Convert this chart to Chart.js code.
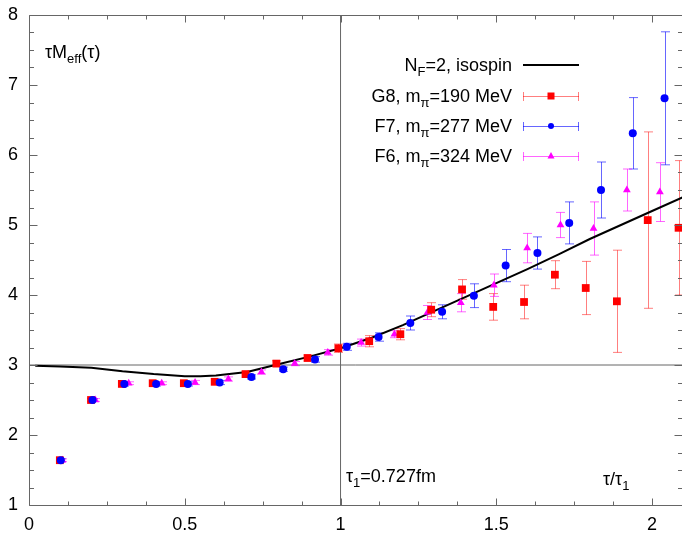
<!DOCTYPE html>
<html>
<head>
<meta charset="utf-8">
<script src="https://cdn.jsdelivr.net/npm/chart.js@4"></script>
<style>
html, body { margin: 0; padding: 0; background: #fff; }
canvas { display: block; }
</style>
</head>
<body>
<canvas id="graf" width="682" height="534"></canvas>
<script>
// values, x in units of tau/tau1

// N_F=2 isospin curve
var curveX = [0.02, 0.1, 0.2, 0.3, 0.4, 0.5, 0.55, 0.6, 0.7, 0.8, 0.9, 1.0, 1.1, 1.2, 1.3, 1.4, 1.5, 1.6, 1.7, 1.8, 1.9, 2.0, 2.1];
var curveY = [2.99, 2.98, 2.96, 2.91, 2.87, 2.84, 2.84, 2.85, 2.90, 3.01, 3.12, 3.24, 3.39, 3.57, 3.77, 3.97, 4.17, 4.37, 4.58, 4.80, 5.00, 5.20, 5.40];

// G8, m_pi = 190 MeV
var g8X = [0.099, 0.199, 0.298, 0.397, 0.497, 0.596, 0.695, 0.794, 0.894, 0.993, 1.092, 1.192, 1.291, 1.390, 1.490, 1.589, 1.688, 1.787, 1.887, 1.986, 2.085];
var g8Y = [1.64, 2.50, 2.73, 2.74, 2.74, 2.76, 2.87, 3.02, 3.10, 3.24, 3.34, 3.44, 3.79, 4.08, 3.83, 3.90, 4.29, 4.10, 3.91, 5.07, 4.96];
var g8Err = [0.02, 0.02, 0.03, 0.03, 0.03, 0.03, 0.03, 0.04, 0.04, 0.06, 0.08, 0.08, 0.10, 0.14, 0.19, 0.24, 0.20, 0.38, 0.73, 1.26, 0.96];

// F7, m_pi = 277 MeV
var f7X = [0.102, 0.204, 0.306, 0.408, 0.510, 0.612, 0.714, 0.816, 0.918, 1.020, 1.122, 1.224, 1.326, 1.428, 1.530, 1.632, 1.734, 1.836, 1.938, 2.040];
var f7Y = [1.64, 2.50, 2.73, 2.73, 2.73, 2.75, 2.83, 2.94, 3.08, 3.26, 3.40, 3.60, 3.76, 3.99, 4.42, 4.60, 5.03, 5.50, 6.31, 6.81];
var f7Err = [0.02, 0.02, 0.03, 0.03, 0.03, 0.03, 0.03, 0.03, 0.04, 0.05, 0.06, 0.10, 0.10, 0.17, 0.23, 0.23, 0.30, 0.40, 0.51, 0.95];

// F6, m_pi = 324 MeV
var f6X = [0.107, 0.213, 0.320, 0.426, 0.533, 0.640, 0.746, 0.853, 0.959, 1.066, 1.173, 1.279, 1.386, 1.492, 1.599, 1.706, 1.812, 1.919, 2.025];
var f6Y = [1.64, 2.50, 2.74, 2.74, 2.75, 2.80, 2.90, 3.02, 3.18, 3.32, 3.44, 3.75, 3.89, 4.14, 4.67, 5.00, 4.95, 5.50, 5.47];
var f6Err = [0.02, 0.02, 0.02, 0.02, 0.03, 0.03, 0.03, 0.03, 0.04, 0.05, 0.05, 0.10, 0.13, 0.16, 0.21, 0.18, 0.38, 0.30, 0.42];

// axis ticks
var xTicks = [0, 0.5, 1, 1.5, 2];
var yTicks = [1, 2, 3, 4, 5, 6, 7, 8];
var xMinorStep = 0.125;
var yMinorStep = 0.25;

// guide lines at tau = tau1 and at 3
var tauOne = 1;
var level = 3;

var FONT = '"Liberation Sans", Arial, Helvetica, sans-serif';

function pts(xs, ys) {
  return xs.map(function (x, i) { return { x: x, y: ys[i] }; });
}

var series = [
  { label: 'G8', x: g8X, y: g8Y, err: g8Err, color: '#ff0000', bar: 'rgba(255,0,0,0.5)', style: 'rect' },
  { label: 'F7', x: f7X, y: f7Y, err: f7Err, color: '#0000ff', bar: 'rgba(0,0,255,0.6)', style: 'circle' },
  { label: 'F6', x: f6X, y: f6Y, err: f6Err, color: '#ff00ff', bar: 'rgba(255,0,255,0.6)', style: 'triangle' }
];

// text with subscripts: parts = [[text, isSub], ...]
function runWidth(ctx, parts) {
  var w = 0;
  parts.forEach(function (p) {
    ctx.font = (p[1] ? '13px ' : '18px ') + FONT;
    w += ctx.measureText(p[0]).width;
  });
  return w;
}
function drawRun(ctx, parts, x, y, align) {
  if (align === 'right') x -= runWidth(ctx, parts);
  ctx.textAlign = 'left';
  ctx.textBaseline = 'alphabetic';
  ctx.fillStyle = '#000';
  parts.forEach(function (p) {
    ctx.font = (p[1] ? '13px ' : '18px ') + FONT;
    ctx.fillText(p[0], x, p[1] ? y + 5 : y);
    x += ctx.measureText(p[0]).width;
  });
}

var errorBars = {
  id: 'errorBars',
  beforeDatasetsDraw: function (chart) {
    var ctx = chart.ctx, xs = chart.scales.x, ys = chart.scales.y, a = chart.chartArea;
    ctx.save();
    ctx.beginPath();
    ctx.rect(a.left, a.top, a.right - a.left, a.bottom - a.top);
    ctx.clip();
    ctx.lineWidth = 1;
    series.forEach(function (s) {
      ctx.strokeStyle = s.bar;
      for (var i = 0; i < s.x.length; i++) {
        var px = Math.round(xs.getPixelForValue(s.x[i])) + 0.5;
        var top = ys.getPixelForValue(s.y[i] + s.err[i]);
        var bot = ys.getPixelForValue(s.y[i] - s.err[i]);
        ctx.beginPath();
        ctx.moveTo(px, top); ctx.lineTo(px, bot);
        ctx.moveTo(px - 4.5, top); ctx.lineTo(px + 4.5, top);
        ctx.moveTo(px - 4.5, bot); ctx.lineTo(px + 4.5, bot);
        ctx.stroke();
      }
    });
    ctx.restore();
  }
};

var frame = {
  id: 'frame',
  afterDraw: function (chart) {
    var ctx = chart.ctx, xs = chart.scales.x, ys = chart.scales.y, a = chart.chartArea;
    var L = Math.round(a.left) + 0.5, R = Math.round(a.right) + 0.5;
    var T = Math.round(a.top) + 0.5, B = Math.round(a.bottom) + 0.5;
    ctx.save();
    ctx.strokeStyle = '#666';
    ctx.lineWidth = 1;
    ctx.beginPath();
    ctx.moveTo(L, T); ctx.lineTo(R, T);
    ctx.moveTo(L, T); ctx.lineTo(L, B);
    ctx.moveTo(L, B); ctx.lineTo(R, B);
    ctx.moveTo(R, T); ctx.lineTo(R, B);
    // inward ticks along x
    var n = Math.floor(xs.max / xMinorStep + 1e-6);
    for (var i = 0; i <= n; i++) {
      var v = i * xMinorStep;
      var len = (i % 4 === 0) ? 7 : 4;
      var px = Math.round(xs.getPixelForValue(v)) + 0.5;
      ctx.moveTo(px, B); ctx.lineTo(px, B - len);
      ctx.moveTo(px, T); ctx.lineTo(px, T + len);
    }
    // inward ticks along y
    var m = Math.round((ys.max - ys.min) / yMinorStep);
    for (var j = 0; j <= m; j++) {
      var w = ys.min + j * yMinorStep;
      var l = (j % 4 === 0) ? 8 : 4.5;
      var py = Math.round(ys.getPixelForValue(w)) + 0.5;
      ctx.moveTo(L, py); ctx.lineTo(L + l, py);
      ctx.moveTo(R, py); ctx.lineTo(R - l, py);
    }
    ctx.stroke();

    // axis titles and note
    drawRun(ctx, [['τM', 0], ['eff', 1], ['(τ)', 0]], 45, 58);
    drawRun(ctx, [['τ/τ', 0], ['1', 1]], 603, 485);
    drawRun(ctx, [['τ', 0], ['1', 1], ['=0.727fm', 0]], 346, 482);

    // legend
    var rows = [
      { parts: [['N', 0], ['F', 1], ['=2, isospin', 0]], y: 65 },
      { parts: [['G8, m', 0], ['π', 1], ['=190 MeV', 0]], y: 96, s: series[0] },
      { parts: [['F7, m', 0], ['π', 1], ['=277 MeV', 0]], y: 126, s: series[1] },
      { parts: [['F6, m', 0], ['π', 1], ['=324 MeV', 0]], y: 156, s: series[2] }
    ];
    var x0 = 523, x1 = 579, xm = 551;
    rows.forEach(function (r) {
      drawRun(ctx, r.parts, 512, r.y + 6, 'right');
      if (!r.s) {
        ctx.strokeStyle = '#000'; ctx.lineWidth = 2;
        ctx.beginPath(); ctx.moveTo(x0, r.y); ctx.lineTo(x1, r.y); ctx.stroke();
        return;
      }
      var yy = r.y + 0.5;
      ctx.strokeStyle = r.s.bar; ctx.lineWidth = 1;
      ctx.beginPath();
      ctx.moveTo(x0, yy); ctx.lineTo(x1, yy);
      ctx.moveTo(x0 + 0.5, yy - 4.5); ctx.lineTo(x0 + 0.5, yy + 4.5);
      ctx.moveTo(x1 - 0.5, yy - 4.5); ctx.lineTo(x1 - 0.5, yy + 4.5);
      ctx.stroke();
      ctx.fillStyle = r.s.color;
      ctx.beginPath();
      if (r.s.style === 'rect') ctx.rect(xm - 3.5, r.y - 3.5, 7, 7);
      else if (r.s.style === 'circle') ctx.arc(xm, r.y, 3, 0, Math.PI * 2);
      else { ctx.moveTo(xm, r.y - 4); ctx.lineTo(xm + 3.5, r.y + 2.5); ctx.lineTo(xm - 3.5, r.y + 2.5); ctx.closePath(); }
      ctx.fill();
    });
    ctx.restore();
  }
};

Chart.defaults.font.family = FONT;
Chart.defaults.font.size = 18;
Chart.defaults.color = '#000';

var graf = document.getElementById('graf');
new Chart(graf, {
  type: 'scatter',
  data: {
    datasets: [
      { label: 'tau1', data: [{ x: tauOne, y: 1 }, { x: tauOne, y: 8 }], showLine: true, borderColor: '#666', borderWidth: 1, pointRadius: 0, order: 6 },
      { label: 'level', data: [{ x: 0, y: level }, { x: 2.096, y: level }], showLine: true, borderColor: '#666', borderWidth: 1, pointRadius: 0, order: 5 },
      { label: 'NF=2, isospin', data: pts(curveX, curveY), showLine: true, borderColor: '#000', borderWidth: 2, pointRadius: 0, order: 4 },
      { label: 'F6', data: pts(f6X, f6Y), pointStyle: 'triangle', pointRadius: 4.5, backgroundColor: '#ff00ff', borderColor: '#ff00ff', borderWidth: 0, order: 3 },
      { label: 'G8', data: pts(g8X, g8Y), pointStyle: 'rect', pointRadius: 5.5, backgroundColor: '#ff0000', borderColor: '#ff0000', borderWidth: 0, order: 2 },
      { label: 'F7', data: pts(f7X, f7Y), pointStyle: 'circle', pointRadius: 4, backgroundColor: '#0000ff', borderColor: '#0000ff', borderWidth: 0, order: 1 }
    ]
  },
  options: {
    responsive: false,
    animation: false,
    devicePixelRatio: 1,
    layout: { autoPadding: false, padding: { top: 15, right: 0, left: 0, bottom: 0 } },
    plugins: { legend: { display: false }, tooltip: { enabled: false } },
    scales: {
      x: {
        type: 'linear', min: 0, max: 2.096,
        grid: { display: false, drawTicks: false }, border: { display: false },
        afterBuildTicks: function (s) { s.ticks = xTicks.map(function (v) { return { value: v }; }); },
        afterFit: function (s) { s.height = 29; s.paddingLeft = 0; s.paddingRight = 0; },
        ticks: { padding: 9, maxRotation: 0, autoSkip: false, callback: function (v) { return String(v); } }
      },
      y: {
        type: 'linear', min: 1, max: 8,
        grid: { display: false, drawTicks: false }, border: { display: false },
        afterBuildTicks: function (s) { s.ticks = yTicks.map(function (v) { return { value: v }; }); },
        afterFit: function (s) { s.width = 29; s.paddingTop = 0; s.paddingBottom = 0; },
        ticks: { padding: 11, callback: function (v) { return String(v); } }
      }
    }
  },
  plugins: [errorBars, frame]
});
</script>
</body>
</html>
